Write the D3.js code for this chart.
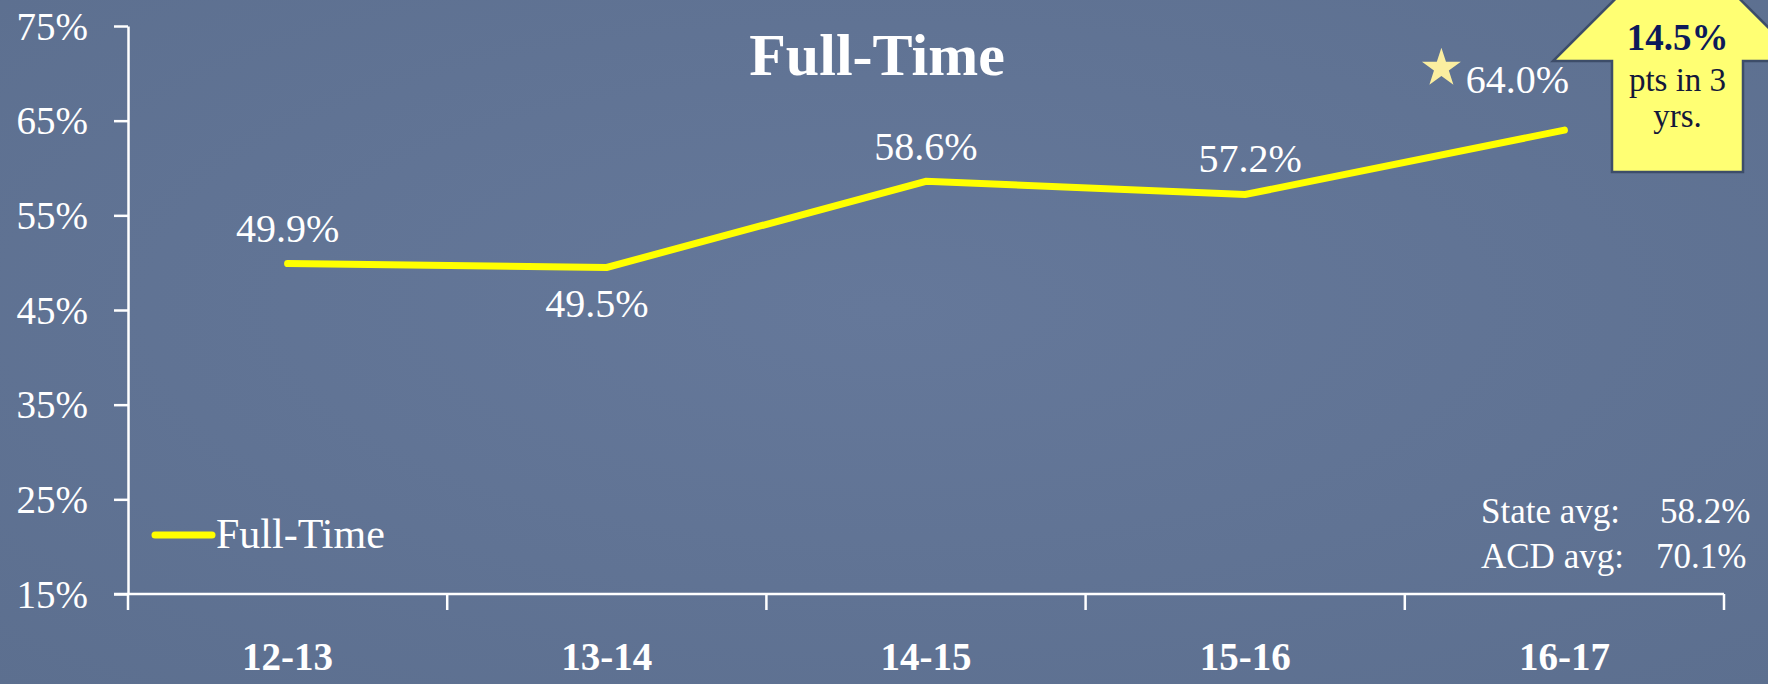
<!DOCTYPE html>
<html><head><meta charset="utf-8">
<script src="https://cdn.jsdelivr.net/npm/d3@7"></script>
<style>
html,body{margin:0;padding:0;background:#627591;}
svg{display:block;}
</style></head>
<body>
<svg id="chart" width="1768" height="684"></svg>
<script>
const categories = ["12-13","13-14","14-15","15-16","16-17"];
const fullTime = [49.9, 49.5, 58.6, 57.2, 64.0];
const yTicks = [15, 25, 35, 45, 55, 65, 75];
const seriesName = "Full-Time";
const chartTitle = "Full-Time";
const avgLabels = ["State avg:", "ACD avg:"];
const avgValues = [58.2, 70.1];
const gainPts = 14.5;
const gainText = ["pts in 3", "yrs."];

const W = 1768, H = 684;
const FONT = "'Liberation Serif', 'Times New Roman', serif";
const svg = d3.select("#chart");

const defs = svg.append("defs");
const rg = defs.append("radialGradient").attr("id","bg").attr("cx","50%").attr("cy","45%").attr("r","75%");
rg.append("stop").attr("offset","0%").attr("stop-color","#65789a");
rg.append("stop").attr("offset","100%").attr("stop-color","#5c6f8f");
svg.append("rect").attr("width",W).attr("height",H).attr("fill","url(#bg)");

const x = d3.scaleBand().domain(categories).range([128, 1724]);
const y = d3.scaleLinear().domain([15, 75]).range([594, 26]);

// y axis
const yAxis = svg.append("g").attr("transform","translate(128,0)")
  .call(d3.axisLeft(y).tickValues(yTicks).tickSize(14).tickSizeOuter(0).tickPadding(26).tickFormat(d => d + "%"));
yAxis.select(".domain").attr("stroke","#fff").attr("stroke-width",2.5);
yAxis.selectAll(".tick line").attr("stroke","#fff").attr("stroke-width",2.5);
yAxis.selectAll(".tick text").attr("fill","#fff").attr("font-family",FONT).attr("font-size",39).attr("dy","0.34em");

// x axis
const xAxis = svg.append("g").attr("transform","translate(0,594)")
  .call(d3.axisBottom(x).tickSize(0).tickSizeOuter(0));
xAxis.select(".domain").remove();
xAxis.selectAll(".tick text").attr("fill","#fff").attr("font-family",FONT).attr("font-size",39)
  .attr("font-weight","bold").attr("y",76).attr("dy",0);
svg.append("line").attr("x1",114).attr("x2",x.range()[1]).attr("y1",y(15)).attr("y2",y(15))
  .attr("stroke","#fff").attr("stroke-width",2.5);
const bounds = categories.map(c => x(c)).concat([x.range()[1]]);
svg.selectAll("line.xb").data(bounds).join("line").attr("class","xb")
  .attr("x1",d=>d).attr("x2",d=>d).attr("y1",y(15)).attr("y2",y(15)+16)
  .attr("stroke","#fff").attr("stroke-width",2.5);

// line
const pts = categories.map((c,i) => ({c, v: fullTime[i]}));
const line = d3.line().x(d => x(d.c) + x.bandwidth()/2).y(d => y(d.v));
svg.append("path").datum(pts).attr("d", line).attr("fill","none")
  .attr("stroke","#ffff00").attr("stroke-width",7).attr("stroke-linecap","round").attr("stroke-linejoin","miter");

// data labels
const labelOff = [[0,-22],[-10,50],[0,-21],[5,-23],[-47,-37]];
svg.selectAll("text.dl").data(pts).join("text").attr("class","dl")
  .attr("x",(d,i) => x(d.c) + x.bandwidth()/2 + labelOff[i][0])
  .attr("y",(d,i) => y(d.v) + labelOff[i][1])
  .attr("text-anchor","middle").attr("fill","#fff").attr("font-family",FONT).attr("font-size",40)
  .text(d => d.v.toFixed(1) + "%");

// star near last label
const last = pts[pts.length-1];
svg.append("path").attr("d", d3.symbol().type(d3.symbolStar).size(470)())
  .attr("transform",`translate(${x(last.c)+x.bandwidth()/2-123},${y(last.v)-62})`)
  .attr("fill","#fbeea0");

// title
svg.append("text").attr("x",877).attr("y",75).attr("text-anchor","middle").attr("fill","#fff")
  .attr("font-family",FONT).attr("font-weight","bold").attr("font-size",60).text(chartTitle);

// legend
svg.append("line").attr("x1",155).attr("x2",212).attr("y1",535).attr("y2",535)
  .attr("stroke","#ffff00").attr("stroke-width",7).attr("stroke-linecap","round");
svg.append("text").attr("x",216).attr("y",548).attr("fill","#fff").attr("font-family",FONT)
  .attr("font-size",42).text(seriesName);

// averages
avgLabels.forEach((t,i) => {
  svg.append("text").attr("x",1481).attr("y",523 + i*45).attr("fill","#fff").attr("font-family",FONT)
    .attr("font-size",35).text(t);
  svg.append("text").attr("x",1660 - i*4).attr("y",523 + i*45).attr("fill","#fff").attr("font-family",FONT)
    .attr("font-size",35).text(avgValues[i].toFixed(1) + "%");
});

// arrow callout
const ax = 1677.5;
const arrow = d3.path();
arrow.moveTo(ax, -63);
arrow.lineTo(ax + 124.5, 61);
arrow.lineTo(1743, 61);
arrow.lineTo(1743, 172);
arrow.lineTo(1612, 172);
arrow.lineTo(1612, 61);
arrow.lineTo(ax - 124.5, 61);
arrow.closePath();
svg.append("path").attr("d", arrow.toString()).attr("fill","#ffff73")
  .attr("stroke","#3d4d69").attr("stroke-width",2.5).attr("stroke-linejoin","miter");
svg.append("text").attr("x",ax).attr("y",50).attr("text-anchor","middle").attr("fill","#0c1a5a")
  .attr("font-family",FONT).attr("font-weight","bold").attr("font-size",37).text(gainPts.toFixed(1) + "%");
gainText.forEach((t,i) => {
  svg.append("text").attr("x",ax).attr("y",91 + i*36).attr("text-anchor","middle").attr("fill","#14183a")
    .attr("font-family",FONT).attr("font-size",33).text(t);
});
</script>
</body></html>
